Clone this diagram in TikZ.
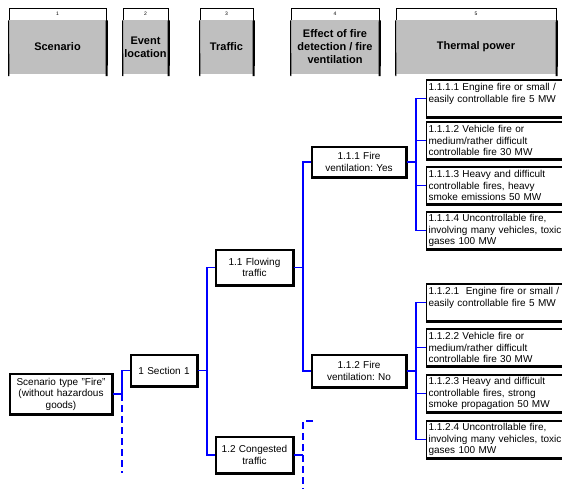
\documentclass[tikz,border=0pt]{standalone}
\usepackage{fontspec}
\setmainfont{Liberation Sans}
\frenchspacing
\begin{document}
\begin{tikzpicture}[x=1pt,y=-1pt,
  box/.style={draw=black, line width=1.1pt, fill=white, inner sep=1pt, align=center, font=\fontsize{10}{11.5}\selectfont\frenchspacing},
  tbox/.style={box, anchor=west, minimum width=150pt, minimum height=37pt, text width=146pt, align=left, inner xsep=2pt},
  conn/.style={draw=blue, line width=1.7pt},
  dconn/.style={conn, dash pattern=on 7pt off 4pt},
  hnum/.style={draw=black, line width=0.9pt, fill=white, minimum height=12pt, inner sep=0pt, font=\fontsize{5}{5}\selectfont},
  hbox/.style={fill=black!25, minimum height=54pt, inner sep=0pt, align=center, font=\fontsize{11}{13}\selectfont\bfseries},
  shadow/.style={line width=2.2pt},
]
\useasboundingbox (0,0) rectangle (562,489);
\fill[white] (0,0) rectangle (562,489);
\clip (0,0) rectangle (562,489);

% header
\node[hnum, minimum width=97pt] (n1) at (57.5,14) {1};
\node[hbox, minimum width=97pt] (h1) at (57.5,47) {Scenario};
\node[hnum, minimum width=45pt] (n2) at (145.5,14) {2};
\node[hbox, minimum width=45pt] (h2) at (145.5,47) {Event\\location};
\node[hnum, minimum width=53pt] (n3) at (226.5,14) {3};
\node[hbox, minimum width=53pt] (h3) at (226.5,47) {Traffic};
\node[hnum, minimum width=88pt] (n4) at (335,14) {4};
\node[hbox, minimum width=88pt] (h4) at (335,47) {Effect of fire\\detection / fire\\ventilation};
\node[hnum, minimum width=160pt] (n5) at (476,14) {5};
\node[hbox, minimum width=160pt] (h5) at (476,47) {Thermal power};
\foreach \n/\h in {n1/h1,n2/h2,n3/h3,n4/h4,n5/h5}{
  \draw[line width=1.1pt] (\n.south west) -- ([yshift=-2pt]\h.south west);
  \draw[shadow] ([xshift=0.4pt]\n.south east) -- ([xshift=0.4pt,yshift=-2pt]\h.south east);
}

% tree nodes
\node[box, minimum width=102pt, minimum height=40pt, text width=100pt] (scen) at (61,394) {Scenario type "Fire"\\(without hazardous\\goods)};
\node[box, minimum width=66pt, minimum height=31pt, text width=64pt] (sec) at (164,370.5) {1 Section 1};
\node[box, minimum width=77pt, minimum height=35pt, text width=75pt] (ft) at (254.5,267.5) {1.1 Flowing\\traffic};
\node[box, minimum width=77pt, minimum height=36pt, text width=75pt] (ct) at (254.5,455) {1.2 Congested\\traffic};
\node[box, minimum width=94pt, minimum height=30pt, text width=92pt] (fy) at (359,162) {1.1.1 Fire\\ventilation: Yes};
\node[box, minimum width=94pt, minimum height=32pt, text width=92pt] (fn) at (359,371) {1.1.2 Fire\\ventilation: No};

\node[tbox] (t1) at (426,98.5) {1.1.1.1 Engine fire or small /\\easily controllable fire 5 MW\\\mbox{}};
\node[tbox] (t2) at (426,140.5) {1.1.1.2 Vehicle fire or\\medium/rather difficult\\controllable fire 30 MW};
\node[tbox] (t3) at (426,185.5) {1.1.1.3 Heavy and difficult\\controllable fires, heavy\\smoke emissions 50 MW};
\node[tbox] (t4) at (426,230.5) {1.1.1.4 Uncontrollable fire,\\involving many vehicles, toxic\\gases 100 MW};
\node[tbox] (u1) at (426,302.5) {1.1.2.1 \ Engine fire or small /\\easily controllable fire 5 MW\\\mbox{}};
\node[tbox] (u2) at (426,347.5) {1.1.2.2 Vehicle fire or\\medium/rather difficult\\controllable fire 30 MW};
\node[tbox] (u3) at (426,393.5) {1.1.2.3 Heavy and difficult\\controllable fires, strong\\smoke propagation 50 MW};
\node[tbox] (u4) at (426,439.5) {1.1.2.4 Uncontrollable fire,\\involving many vehicles, toxic\\gases 100 MW};

\foreach \n in {scen,sec,ft,ct,fy,fn,t1,t2,t3,t4,u1,u2,u3,u4}{
  \draw[shadow] ([xshift=0.5pt]\n.north east) -- ([xshift=0.5pt,yshift=-0.5pt]\n.south east) -- ([yshift=-0.5pt]\n.south west);
}

% connector columns
\coordinate (j0) at (122,0);
\coordinate (j1) at (207,0);
\coordinate (j2) at (303,0);
\coordinate (j3) at (416,0);
\coordinate (d0) at (122,473);
\coordinate (d1) at (303,421);
\coordinate (d2) at (303,492);
\coordinate (d3) at (313,421);

\draw[conn] (scen.east) -- (scen.east -| j0) -- (sec.west -| j0) -- (sec.west);
\draw[dconn] (scen.east -| j0) -- (d0);

\draw[conn] (sec.east) -- (sec.east -| j1);
\draw[conn] (ft.west) -- (ft.west -| j1) -- (ct.west -| j1) -- (ct.west);

\draw[conn] (ft.east) -- (ft.east -| j2);
\draw[conn] (fy.west) -- (fy.west -| j2) -- (fn.west -| j2) -- (fn.west);

\draw[conn] (ct.east) -- (ct.east -| j2);
\draw[dconn] (d3) -- (d1) -- (d2);

\draw[conn] (fy.east) -- (fy.east -| j3);
\draw[conn] (t1.west) -- (t1.west -| j3) -- (t4.west -| j3) -- (t4.west);
\draw[conn] (t2.west -| j3) -- (t2.west);
\draw[conn] (t3.west -| j3) -- (t3.west);

\draw[conn] (fn.east) -- (fn.east -| j3);
\draw[conn] (u1.west) -- (u1.west -| j3) -- (u4.west -| j3) -- (u4.west);
\draw[conn] (u2.west -| j3) -- (u2.west);
\draw[conn] (u3.west -| j3) -- (u3.west);
\end{tikzpicture}
\end{document}
